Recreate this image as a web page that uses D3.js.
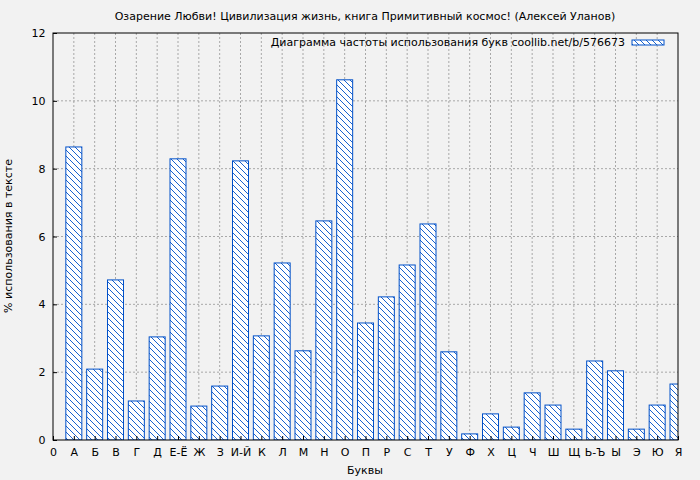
<!DOCTYPE html>
<html><head><meta charset="utf-8">
<script src="https://cdn.jsdelivr.net/npm/d3@7"></script>
<style>body{margin:0;background:#f2f2f2}text{font-family:"DejaVu Sans",sans-serif}</style>
</head><body><svg id="c" width="700" height="480"></svg>
<script>
const letters = ["А","Б","В","Г","Д","Е-Ё","Ж","З","И-Й","К","Л","М","Н","О","П","Р","С","Т","У","Ф","Х","Ц","Ч","Ш","Щ","Ь-Ъ","Ы","Э","Ю","Я"];
const values = [8.64,2.09,4.72,1.15,3.04,8.29,1.0,1.59,8.23,3.07,5.22,2.63,6.46,10.62,3.45,4.22,5.16,6.37,2.6,0.18,0.77,0.38,1.39,1.03,0.32,2.33,2.04,0.32,1.03,1.65];
const yTicks = [0,2,4,6,8,10,12];
const title = "Озарение Любви! Цивилизация жизнь, книга Примитивный космос! (Алексей Уланов)";
const legendText = "Диаграмма частоты использования букв coollib.net/b/576673";

const m = {l:53, r:678, t:33, b:440};
const svg = d3.select("#c");
svg.append("rect").attr("width",700).attr("height",480).attr("fill","#f2f2f2");
const defs = svg.append("defs");
const pat = defs.append("pattern").attr("id","h").attr("patternUnits","userSpaceOnUse")
  .attr("width",6).attr("height",6);
pat.append("rect").attr("width",6).attr("height",6).attr("fill","#fff");
pat.append("path").attr("d","M-1,-1 L7,7 M-1,5 L1,7 M5,-1 L7,1").attr("stroke","#0050c8").attr("stroke-width",0.9);
defs.append("clipPath").attr("id","clip").append("rect")
  .attr("x",m.l).attr("y",m.t).attr("width",m.r-m.l).attr("height",m.b-m.t);

const x = d3.scaleLinear().domain([0,30]).range([m.l,m.r]);
const y = d3.scaleLinear().domain([0,12]).range([m.b,m.t]);
const bw = 16;

// grid
const g = svg.append("g");
d3.range(1,30).forEach(i => g.append("line").attr("x1",x(i)).attr("x2",x(i)).attr("y1",m.t).attr("y2",m.b)
  .attr("stroke","#888").attr("stroke-dasharray","2,2").attr("stroke-width",0.7));
yTicks.slice(1,-1).forEach(v => g.append("line").attr("x1",m.l).attr("x2",m.r).attr("y1",y(v)).attr("y2",y(v))
  .attr("stroke","#888").attr("stroke-dasharray","2,2").attr("stroke-width",0.7));

svg.append("g").attr("clip-path","url(#clip)").selectAll("rect").data(values).join("rect")
  .attr("x",(d,i)=>x(i+1)-bw/2).attr("width",bw)
  .attr("y",d=>y(d)).attr("height",d=>y(0)-y(d))
  .attr("fill","url(#h)").attr("stroke","#0050c8").attr("stroke-width",1);

svg.append("rect").attr("x",m.l).attr("y",m.t).attr("width",m.r-m.l).attr("height",m.b-m.t)
  .attr("fill","none").attr("stroke","#000");

const xa = svg.append("g").attr("transform",`translate(0,${m.b})`)
  .call(d3.axisBottom(x).tickValues(d3.range(0,31)).tickSize(-4).tickFormat(i=> i===0?"0":letters[i-1]));
xa.select(".domain").remove();
xa.selectAll("text").attr("dy","1.2em").attr("font-size",11);
const ya = svg.append("g").attr("transform",`translate(${m.l},0)`)
  .call(d3.axisLeft(y).tickValues(yTicks).tickSize(-4));
ya.select(".domain").remove();
ya.selectAll("text").attr("dx","-0.4em").attr("font-size",11);

svg.append("text").attr("x",365).attr("y",20).attr("text-anchor","middle").attr("font-size",11).text(title);
svg.append("text").attr("x",365).attr("y",474).attr("text-anchor","middle").attr("font-size",11).text("Буквы");
svg.append("text").attr("transform","translate(12,236) rotate(-90)").attr("text-anchor","middle")
  .attr("font-size",11).text("% использования в тексте");

svg.append("text").attr("x",625).attr("y",46).attr("text-anchor","end").attr("font-size",11).text(legendText);
svg.append("rect").attr("x",632).attr("y",40).attr("width",32).attr("height",5)
  .attr("fill","url(#h)").attr("stroke","#0050c8");
</script></body></html>
